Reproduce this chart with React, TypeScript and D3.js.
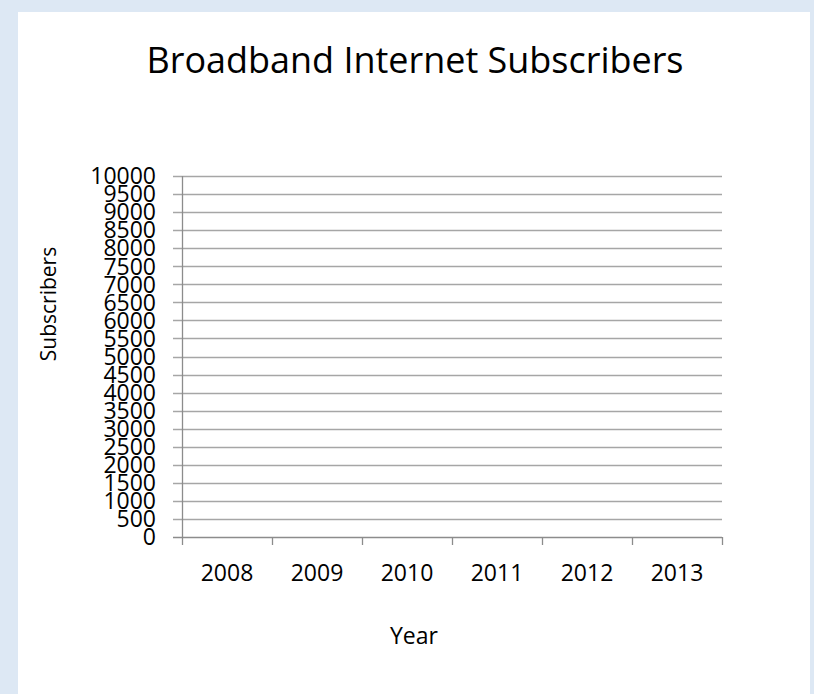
import React from "react";
import * as d3 from "d3";

const TITLE = "Broadband Internet Subscribers";
const X_TITLE = "Year";
const Y_TITLE = "Subscribers";
const years = ["2008", "2009", "2010", "2011", "2012", "2013"];
const yTicks = [0, 500, 1000, 1500, 2000, 2500, 3000, 3500, 4000, 4500, 5000, 5500, 6000, 6500, 7000, 7500, 8000, 8500, 9000, 9500, 10000];
const subscribers: number[] = [];

const W = 814;
const H = 694;
const FONT = "'Open Sans', 'Noto Sans', sans-serif";

export default function App() {
  const x = d3.scaleBand<string>().domain(years).range([182, 722]).padding(0);
  const y = d3.scaleLinear().domain([0, 10000]).range([537, 176]);
  const xEdges = [...years.map((d) => x(d) as number), 722];

  return (
    <div style={{ position: "fixed", left: 0, top: 0 }}>
      <svg width={W} height={H} style={{ display: "block" }}>
        <rect x={0} y={0} width={W} height={H} fill="#dde8f4" />
        <rect x={18} y={12} width={792} height={H - 12} fill="#ffffff" />
        <text x={415} y={72.5} textAnchor="middle" fontFamily={FONT} fontSize={36} fill="#000" textLength={537} lengthAdjust="spacingAndGlyphs">
          {TITLE}
        </text>
        {yTicks.map((t) => (
          <g key={t}>
            <line x1={t === 0 ? 173 : 173} x2={722} y1={Math.round(y(t)) + 0.5} y2={Math.round(y(t)) + 0.5} stroke={t === 0 ? "#8c8c8c" : "#a6a6a6"} strokeWidth={1.3} />
            <text x={156} y={y(t)} dy="0.36em" textAnchor="end" fontFamily={FONT} fontSize={23} fill="#000">
              {t}
            </text>
          </g>
        ))}
        <line x1={182.5} x2={182.5} y1={176} y2={537} stroke="#8c8c8c" strokeWidth={1.3} />
        {xEdges.map((ex, i) => (
          <line key={i} x1={Math.round(ex) + 0.5} x2={Math.round(ex) + 0.5} y1={537} y2={545} stroke="#8c8c8c" strokeWidth={1.3} />
        ))}
        {years.map((yr) => (
          <text key={yr} x={(x(yr) as number) + x.bandwidth() / 2} y={581} textAnchor="middle" fontFamily={FONT} fontSize={23} fill="#000">
            {yr}
          </text>
        ))}
        {subscribers.map((v, i) => (
          <rect key={i} x={x(years[i]) as number} y={y(v)} width={x.bandwidth()} height={537 - y(v)} fill="#4f81bd" />
        ))}
        <text x={414} y={644} textAnchor="middle" fontFamily={FONT} fontSize={23} fill="#000">
          {X_TITLE}
        </text>
        <text transform={`translate(56,304) rotate(-90)`} textAnchor="middle" fontFamily={FONT} fontSize={21} fill="#000">
          {Y_TITLE}
        </text>
      </svg>
    </div>
  );
}
